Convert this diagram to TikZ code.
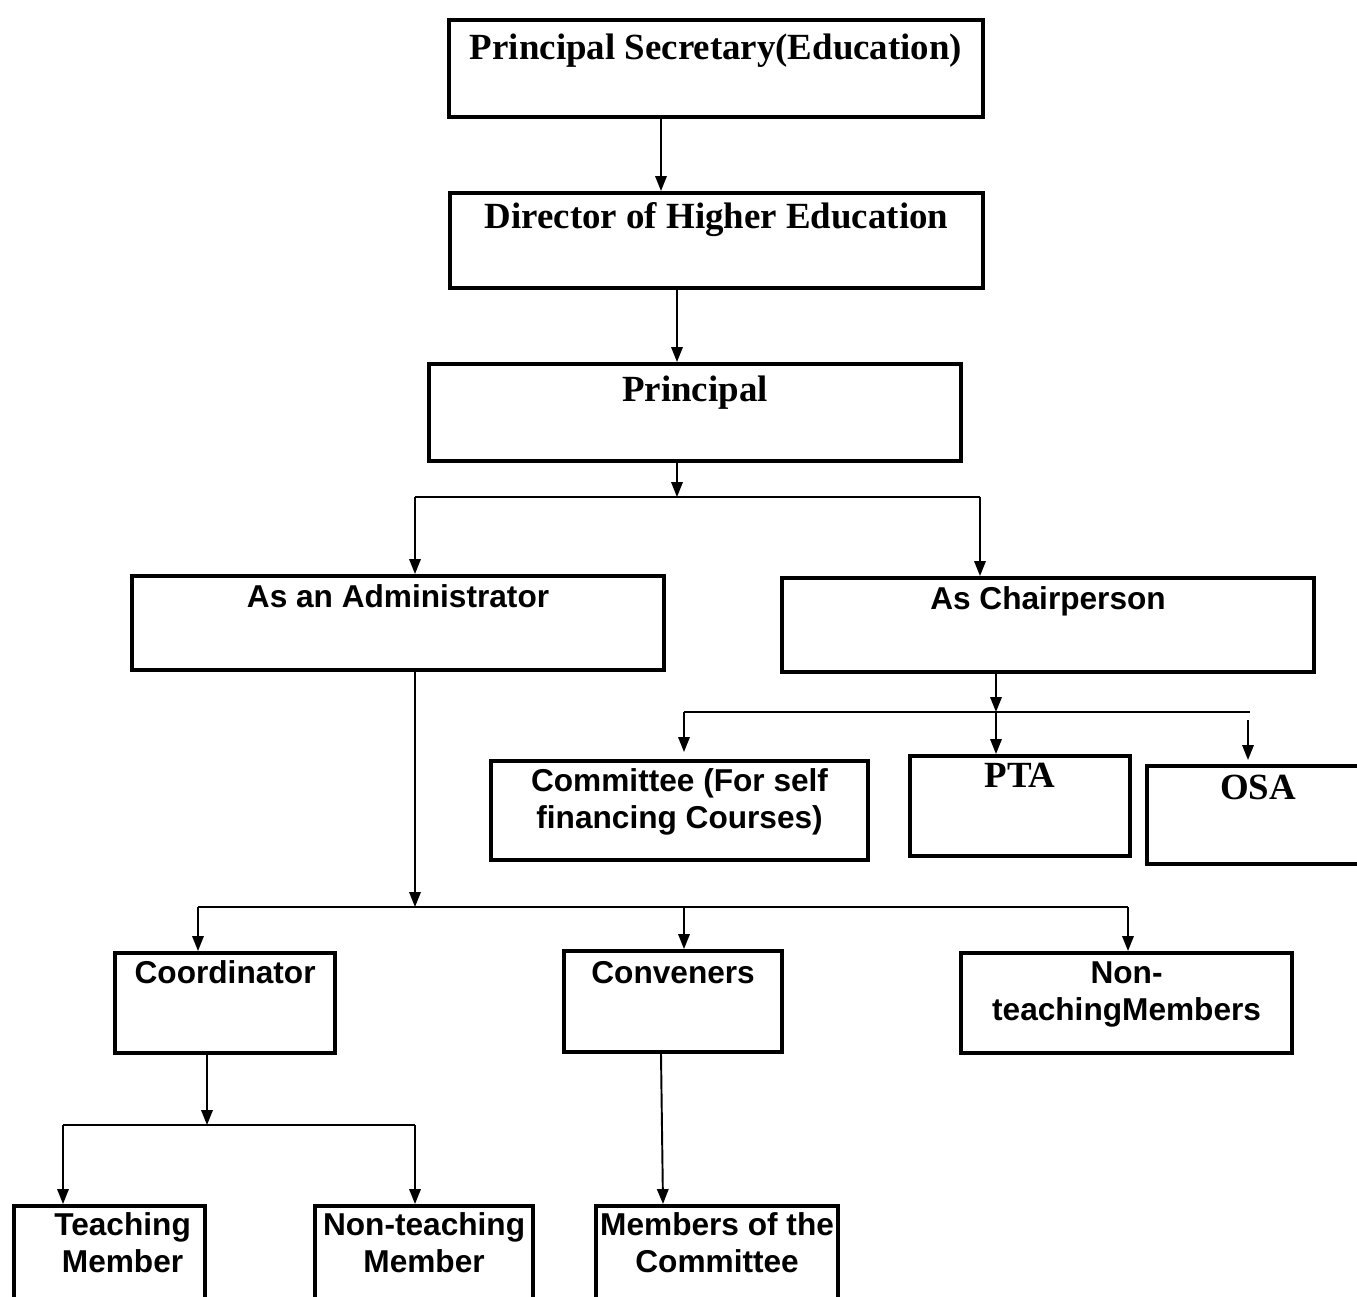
\documentclass[tikz,border=0pt]{standalone}
\usepackage{fontspec}
\setmainfont{Liberation Serif}
\setsansfont{Liberation Sans}
\usetikzlibrary{arrows.meta}

\tikzset{
  box/.style={draw, line width=2.4pt, inner sep=0pt, anchor=north west},
  ser/.style={anchor=base, inner sep=0pt, align=center, font=\fontsize{21}{25}\selectfont\bfseries},
  san/.style={anchor=base, inner sep=0pt, align=center, font=\fontsize{18}{21.5}\selectfont\sffamily\bfseries},
  arr/.style={line width=1.1pt, -{Triangle[length=8.5pt,width=6.5pt]}},
  bus/.style={line width=1.1pt}
}

\begin{document}
\begin{tikzpicture}[x=0.02cm, y=-0.02cm]
\useasboundingbox (0,0) rectangle (1357,1297);
\clip (0,0) rectangle (1357,1297);

\node[box, minimum width=10.68cm, minimum height=1.94cm,
  label={[ser, yshift=-0.83cm]north:Principal Secretary(Education)}] (ps) at (447,18) {};
\node[box, minimum width=10.66cm, minimum height=1.9cm,
  label={[ser, yshift=-0.76cm]north:Director of Higher Education}] (dhe) at (448,191) {};
\node[box, minimum width=10.64cm, minimum height=1.94cm,
  label={[ser, yshift=-0.8cm]north:Principal}] (prin) at (427,362) {};

\node[box, minimum width=10.64cm, minimum height=1.88cm,
  label={[san, yshift=-0.68cm]north:As an Administrator}] (admin) at (130,574) {};
\node[box, minimum width=10.64cm, minimum height=1.88cm,
  label={[san, yshift=-0.68cm]north:As Chairperson}] (chair) at (780,576) {};

\node[box, minimum width=7.54cm, minimum height=1.98cm,
  label={[san, yshift=-1.4cm]north:Committee (For self\\financing Courses)}] (sfc) at (489,759) {};
\node[box, minimum width=4.4cm, minimum height=2cm,
  label={[ser, yshift=-0.68cm]north:PTA}] (pta) at (908,754) {};
\node[box, minimum width=4.44cm, minimum height=1.96cm,
  label={[ser, yshift=-0.72cm]north:OSA}] (osa) at (1145,764) {};

\node[box, minimum width=4.4cm, minimum height=2cm,
  label={[san, yshift=-0.66cm]north:Coordinator}] (coord) at (113,951) {};
\node[box, minimum width=4.36cm, minimum height=2.02cm,
  label={[san, yshift=-0.7cm]north:Conveners}] (conv) at (562,949) {};
\node[box, minimum width=6.62cm, minimum height=2cm,
  label={[san, yshift=-1.4cm]north:Non-\\teachingMembers}] (ntm) at (959,951) {};

\node[box, minimum width=3.82cm, minimum height=2.4cm,
  label={[san, yshift=-1.38cm, xshift=0.26cm]north:Teaching\\Member}] (teach) at (12,1204) {};
\node[box, minimum width=4.36cm, minimum height=2.4cm,
  label={[san, yshift=-1.38cm]north:Non-teaching\\Member}] (nonteach) at (313,1204) {};
\node[box, minimum width=4.84cm, minimum height=2.4cm,
  label={[san, yshift=-1.38cm]north:Members of the\\Committee}] (memb) at (594,1204) {};

\draw[arr] (ps.south -| 661,0) -- (dhe.north -| 661,0);
\draw[arr] (dhe.south -| 677,0) -- (prin.north -| 677,0);

\draw[arr] (prin.south -| 677,0) -- (677,497);
\draw[bus] (415,497) -- (980,497);
\draw[arr] (415,497) -- (admin.north -| 415,0);
\draw[arr] (980,497) -- (chair.north -| 980,0);

\draw[arr] (chair.south -| 996,0) -- (996,712);
\draw[bus] (684,712) -- (1250,712);
\draw[arr] (684,712) -- (684,752);
\draw[arr] (996,712) -- (pta.north -| 996,0);
\draw[arr] (1248,720) -- (1248,760);

\draw[arr] (admin.south -| 415,0) -- (415,907);
\draw[bus] (198,907) -- (1128,907);
\draw[arr] (198,907) -- (coord.north -| 198,0);
\draw[arr] (684,907) -- (conv.north -| 684,0);
\draw[arr] (1128,907) -- (ntm.north -| 1128,0);

\draw[arr] (coord.south -| 207,0) -- (207,1125);
\draw[bus] (63,1125) -- (415,1125);
\draw[arr] (63,1125) -- (teach.north -| 63,0);
\draw[arr] (415,1125) -- (nonteach.north -| 415,0);

\draw[arr] (conv.south -| 661,0) -- (memb.north -| 663,0);
\end{tikzpicture}
\end{document}
